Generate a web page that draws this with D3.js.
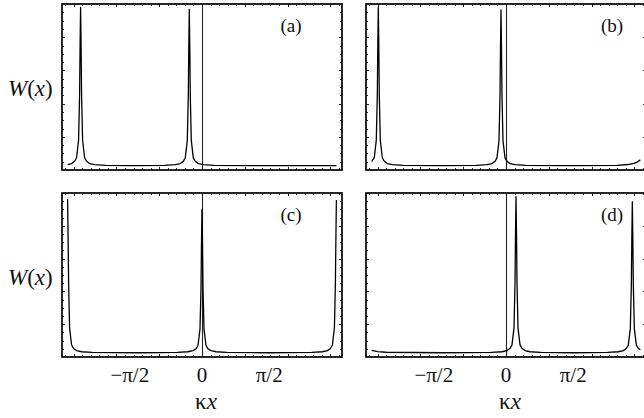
<!DOCTYPE html>
<html>
<head>
<meta charset="utf-8">
<script src="https://cdn.jsdelivr.net/npm/d3@7"></script>
<style>
  body { margin: 0; background: #fff; }
  svg { display: block; }
  text { font-family: 'Liberation Serif', 'Times New Roman', serif; fill: #111; }
</style>
</head>
<body>
<svg id="chart" width="644" height="418"></svg>
<script>
// W(x) against kx, four panels (a)-(d)

const panelNames = ['(a)', '(b)', '(c)', '(d)'];

// [kx, W] (W as fraction of frame height)
const panelA = [
  [-3.1416, 0.033], [-3.048, 0.039], [-2.978, 0.053], [-2.932, 0.074], [-2.885, 0.179],
  [-2.861, 0.455], [-2.850, 0.742], [-2.838, 0.980], [-2.826, 0.742], [-2.815, 0.455],
  [-2.791, 0.179], [-2.744, 0.074], [-2.698, 0.053], [-2.628, 0.039], [-2.508, 0.032],
  [-2.258, 0.028], [-1.600, 0.026], [-0.877, 0.028], [-0.627, 0.032], [-0.507, 0.039],
  [-0.437, 0.052], [-0.391, 0.073], [-0.344, 0.177], [-0.320, 0.450], [-0.309, 0.733],
  [-0.297, 0.968], [-0.285, 0.733], [-0.274, 0.450], [-0.250, 0.177], [-0.203, 0.073],
  [-0.157, 0.052], [-0.087, 0.039], [0.033, 0.032], [0.283, 0.028], [1.500, 0.026],
  [3.1416, 0.026]
];

const panelB = [
  [-3.1416, 0.050], [-3.079, 0.074], [-3.032, 0.179], [-3.008, 0.455], [-2.997, 0.742],
  [-2.985, 0.980], [-2.973, 0.742], [-2.962, 0.455], [-2.938, 0.179], [-2.891, 0.074],
  [-2.845, 0.053], [-2.775, 0.039], [-2.655, 0.032], [-2.405, 0.028], [-1.500, 0.026],
  [-0.697, 0.028], [-0.447, 0.032], [-0.327, 0.039], [-0.257, 0.052], [-0.211, 0.073],
  [-0.164, 0.176], [-0.140, 0.448], [-0.129, 0.730], [-0.117, 0.964], [-0.105, 0.730],
  [-0.094, 0.448], [-0.070, 0.176], [-0.023, 0.073], [0.023, 0.052], [0.093, 0.039],
  [0.213, 0.032], [0.463, 0.028], [1.500, 0.026], [2.600, 0.028], [2.850, 0.033],
  [2.990, 0.040], [3.070, 0.048], [3.1416, 0.062]
];

const panelC = [
  [-3.1416, 0.963], [-3.130, 0.730], [-3.118, 0.450], [-3.095, 0.177], [-3.048, 0.073],
  [-3.002, 0.052], [-2.932, 0.039], [-2.812, 0.032], [-2.562, 0.028], [-1.500, 0.026],
  [-0.580, 0.028], [-0.330, 0.032], [-0.210, 0.039], [-0.140, 0.050], [-0.094, 0.070],
  [-0.047, 0.170], [-0.023, 0.420], [-0.012, 0.690], [0.000, 0.900], [0.012, 0.690],
  [0.023, 0.420], [0.047, 0.170], [0.094, 0.070], [0.140, 0.050], [0.210, 0.039],
  [0.330, 0.032], [0.580, 0.028], [1.500, 0.026], [2.562, 0.028], [2.812, 0.032],
  [2.932, 0.039], [3.002, 0.052], [3.048, 0.073], [3.095, 0.177], [3.118, 0.450],
  [3.130, 0.730], [3.1416, 0.957]
];

const panelD = [
  [-3.1416, 0.040], [-3.000, 0.033], [-2.800, 0.029], [-1.500, 0.026], [-0.346, 0.028],
  [-0.096, 0.032], [0.024, 0.039], [0.094, 0.053], [0.140, 0.074], [0.187, 0.178],
  [0.211, 0.454], [0.222, 0.739], [0.234, 0.977], [0.246, 0.739], [0.257, 0.454],
  [0.281, 0.178], [0.328, 0.074], [0.374, 0.053], [0.444, 0.039], [0.564, 0.032],
  [0.814, 0.028], [1.600, 0.026], [2.373, 0.028], [2.623, 0.032], [2.743, 0.039],
  [2.813, 0.052], [2.859, 0.072], [2.906, 0.173], [2.930, 0.440], [2.941, 0.717],
  [2.953, 0.947], [2.965, 0.717], [2.976, 0.440], [3.000, 0.173], [3.047, 0.072],
  [3.093, 0.052], [3.1416, 0.045]
];

const xTickVals = [-Math.PI / 2, 0, Math.PI / 2];
const xTickLabels = ['\u2212\u03c0/2', '0', '\u03c0/2'];

// layout
const COLS = [{ zero: 202, labelX: 291 }, { zero: 506, labelX: 612 }];
const ROWS = [{ top: 4, bottom: 170, labelY: 32 }, { top: 193, bottom: 357, labelY: 221 }];
const HALF = 140;                    // px from kx=0 to frame edge
const XMAX = HALF * Math.PI / 134.4; // pi spans 134.4 px

const svg = d3.select('#chart');
const panels = [panelA, panelB, panelC, panelD];

panels.forEach((data, i) => {
  const col = COLS[i % 2], row = ROWS[Math.floor(i / 2)];
  const x = d3.scaleLinear().domain([-XMAX, XMAX]).range([col.zero - HALF, col.zero + HALF]);
  const y = d3.scaleLinear().domain([0, 1]).range([row.bottom, row.top]);
  const g = svg.append('g');
  const [x0, x1] = x.range(), [y0, y1] = y.range();

  // frame ticks, small and inward on all four sides
  const xt = d3.range(-16, 17).map(k => ({ v: k * 0.2, major: k % 5 === 0 }));
  const yt = d3.range(1, 20).map(k => ({ v: k * 0.05, major: k % 4 === 0 }));
  const tk = g.append('g').attr('stroke', '#222').attr('stroke-width', 1);
  xt.forEach(t => {
    const px = Math.round(x(t.v)) + 0.5, len = t.major ? 3 : 2;
    tk.append('line').attr('x1', px).attr('x2', px).attr('y1', y0).attr('y2', y0 - len);
    tk.append('line').attr('x1', px).attr('x2', px).attr('y1', y1).attr('y2', y1 + len);
  });
  yt.forEach(t => {
    const py = Math.round(y(t.v)) + 0.5, len = t.major ? 3 : 2;
    tk.append('line').attr('y1', py).attr('y2', py).attr('x1', x0).attr('x2', x0 + len);
    tk.append('line').attr('y1', py).attr('y2', py).attr('x1', x1).attr('x2', x1 - len);
  });

  // vertical axis at kx = 0
  g.append('line')
    .attr('x1', Math.round(x(0)) + 0.5).attr('x2', Math.round(x(0)) + 0.5)
    .attr('y1', y0).attr('y2', y1)
    .attr('stroke', '#222').attr('stroke-width', 1.1);

  // curve
  g.append('path')
    .datum(data)
    .attr('fill', 'none')
    .attr('stroke', '#000')
    .attr('stroke-width', 1.3)
    .attr('stroke-linejoin', 'round')
    .attr('d', d3.line().x(d => x(d[0])).y(d => y(d[1])));

  // frame
  g.append('rect')
    .attr('x', x0).attr('y', y1)
    .attr('width', x1 - x0).attr('height', y0 - y1)
    .attr('fill', 'none').attr('stroke', '#111').attr('stroke-width', 1.8);

  // panel label
  g.append('text')
    .attr('x', col.labelX).attr('y', row.labelY)
    .attr('text-anchor', 'middle')
    .attr('font-size', 19)
    .text(panelNames[i]);

  // y label on left column
  if (i % 2 === 0) {
    const t = g.append('text')
      .attr('x', 8).attr('y', row.top + 92)
      .attr('font-size', 23);
    t.append('tspan').attr('font-style', 'italic').text('W');
    t.append('tspan').text('(');
    t.append('tspan').attr('font-style', 'italic').text('x');
    t.append('tspan').text(')');
  }

  // x tick labels and title on bottom row
  if (i >= 2) {
    g.selectAll('.xl')
      .data(xTickVals)
      .join('text')
      .attr('x', d => x(d) + (d < 0 ? -5 : 0))
      .attr('y', 382)
      .attr('text-anchor', 'middle')
      .attr('font-size', 21)
      .text((d, k) => xTickLabels[k]);

    const t = g.append('text')
      .attr('x', x(0) + 4).attr('y', 409)
      .attr('text-anchor', 'middle')
      .attr('font-size', 23);
    t.append('tspan').text('\u03ba');
    t.append('tspan').attr('font-style', 'italic').text('x');
  }
});
</script>
</body>
</html>
